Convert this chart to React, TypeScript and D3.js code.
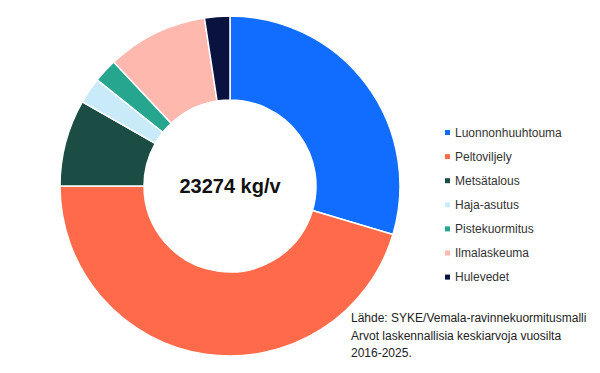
import React from "react";
import * as d3 from "d3";

const categories = ["Luonnonhuuhtouma", "Peltoviljely", "Metsätalous", "Haja-asutus", "Pistekuormitus", "Ilmalaskeuma", "Hulevedet"];
const values = [6890, 10564, 1920, 580, 530, 2230, 560];
const colors = ["#116DFF", "#FF6B4A", "#1B4D44", "#C9EBF9", "#26A68F", "#FFB8AE", "#0A1340"];
const centerLabel = "23274 kg/v";
const noteLines = ["Lähde: SYKE/Vemala-ravinnekuormitusmalli", "Arvot laskennallisia keskiarvoja vuosilta", "2016-2025."];

export default function App() {
  const W = 600, H = 373;
  const cx = 230, cy = 186, rOut = 170, rIn = 86;
  const pie = d3.pie<number>().sort(null).value((d) => d);
  const arcs = pie(values);
  const arc = d3.arc<d3.PieArcDatum<number>>().innerRadius(rIn).outerRadius(rOut);
  const font = "Liberation Sans, Arial, Helvetica, sans-serif";
  return (
    <svg width={W} height={H} style={{ position: "absolute", left: 0, top: 0, background: "#fff" }} fontFamily={font}>
      <g transform={`translate(${cx},${cy})`}>
        {arcs.map((a, i) => (
          <path key={i} d={arc(a) || ""} fill={colors[i]} stroke="#fff" strokeWidth={1.5} />
        ))}
        <text x={0} y={0} dy="0.35em" textAnchor="middle" fontSize={20} fontWeight="bold" fill="#111">{centerLabel}</text>
      </g>
      <g>
        {categories.map((c, i) => (
          <g key={c} transform={`translate(445,${132.5 + i * 24.1})`}>
            <rect x={0} y={-2.5} width={5} height={5} fill={colors[i]} />
            <text x={10} y={0} dy="0.35em" fontSize={12} fill="#333">{c}</text>
          </g>
        ))}
      </g>
      <g>
        {noteLines.map((l, i) => (
          <text key={i} x={351} y={322 + i * 17.7} fontSize={12} fill="#222">{l}</text>
        ))}
      </g>
    </svg>
  );
}
